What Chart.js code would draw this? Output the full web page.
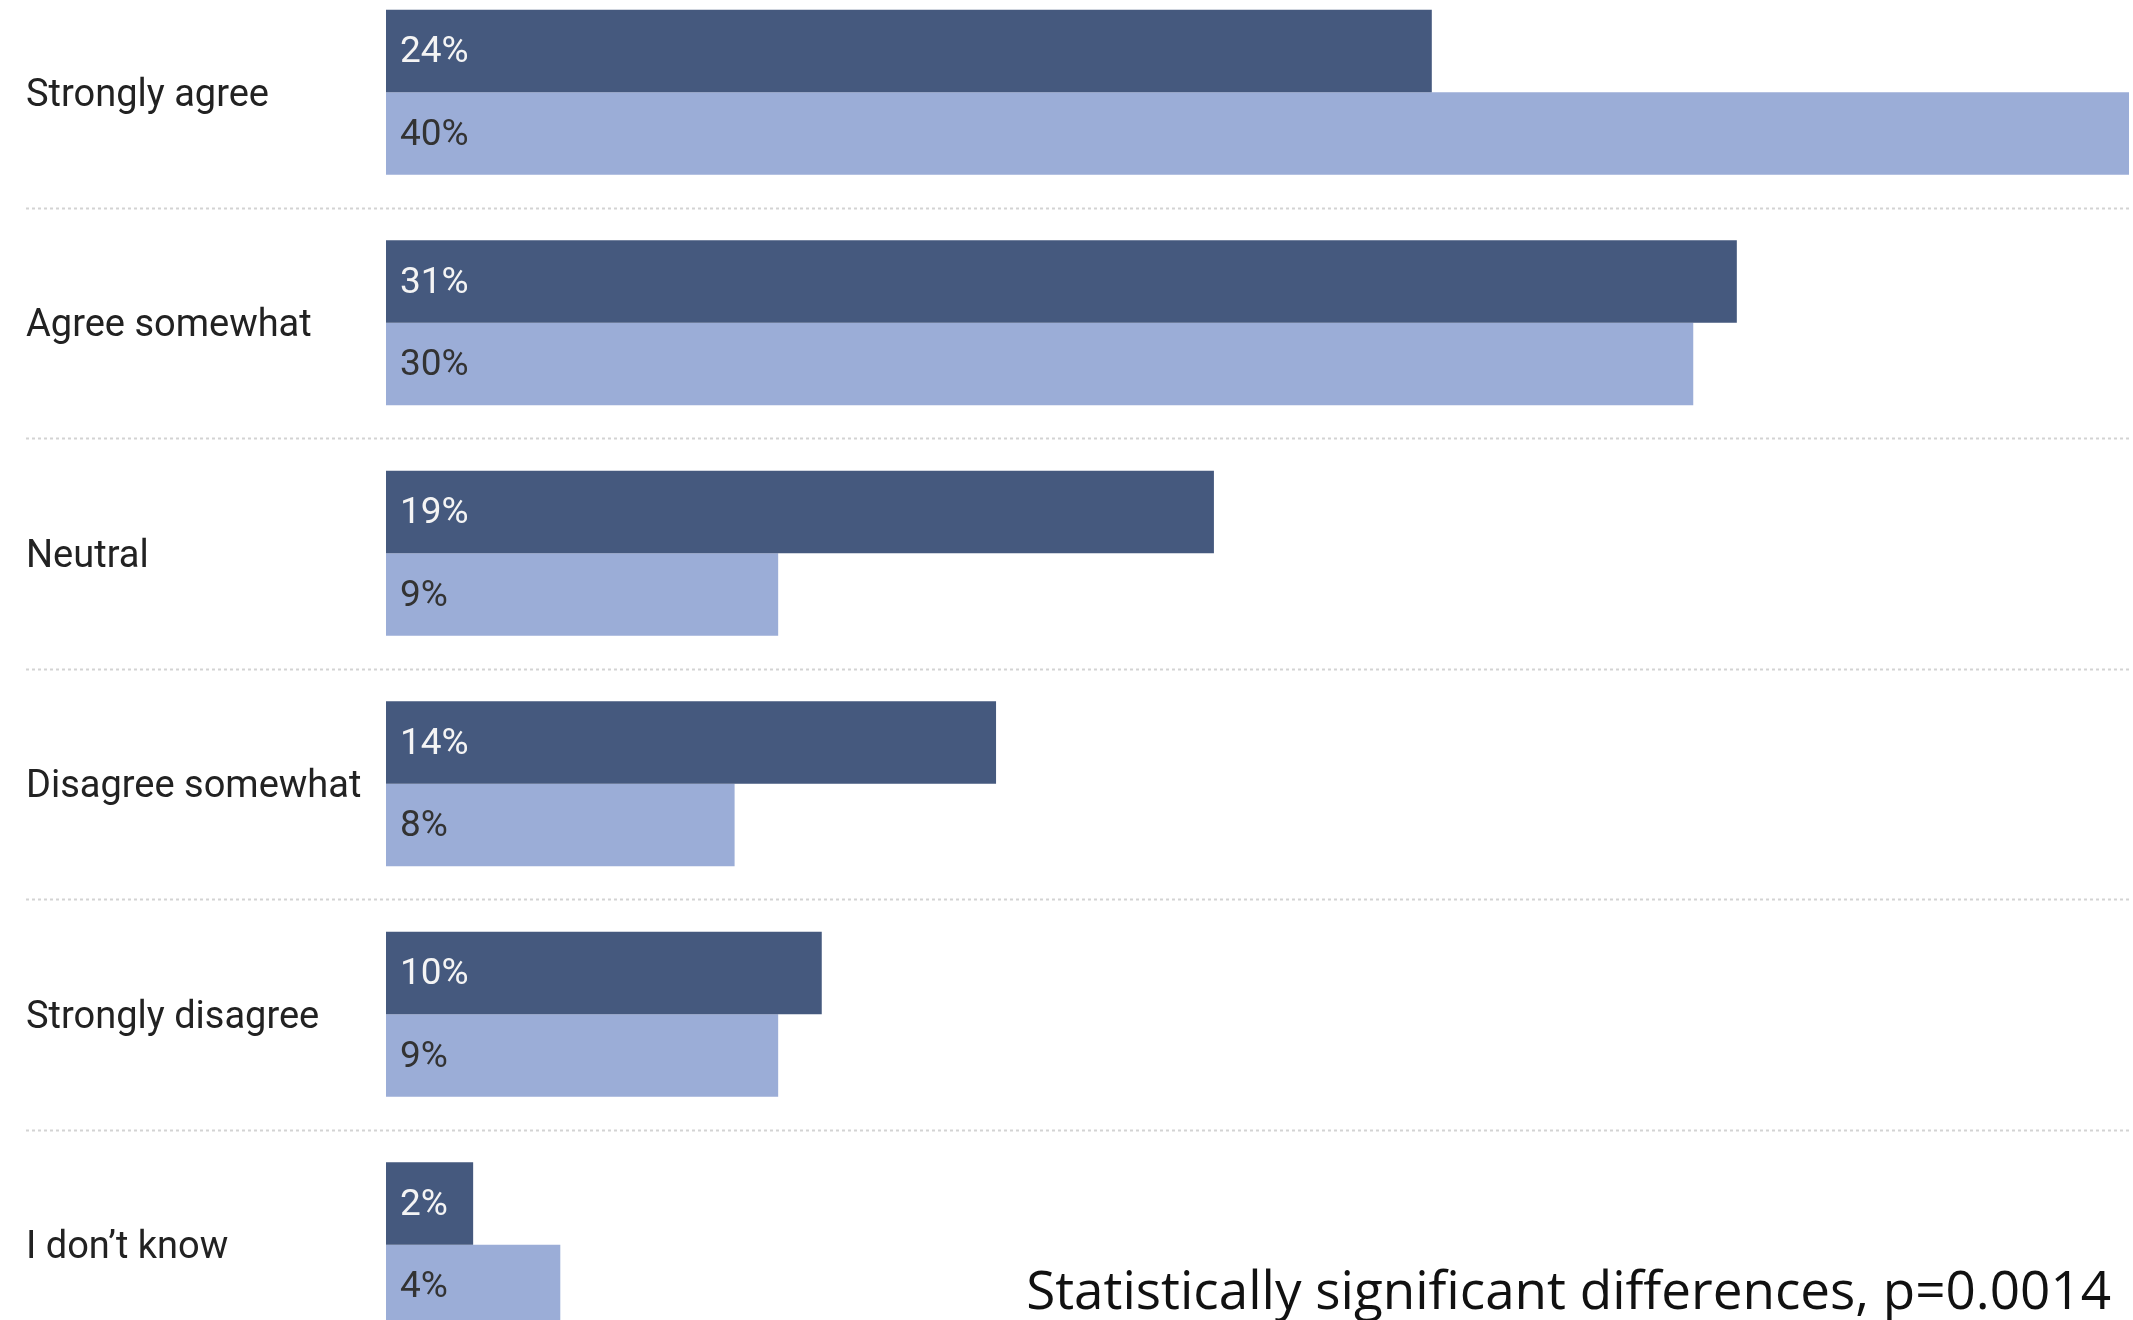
<!DOCTYPE html>
<html>
<head>
<meta charset="utf-8">
<script src="https://cdn.jsdelivr.net/npm/chart.js@4"></script>
<style>
  html, body { margin: 0; padding: 0; background: #fff; overflow: hidden; }
  body { width: 2133px; height: 1320px; position: relative; }
  #wrap { position: absolute; left: 0; top: -23px; width: 2133px; height: 1383px; }
  #note {
    position: absolute; right: 22px; top: 1262px;
    font-family: 'Open Sans', sans-serif; font-size: 53px; line-height: 53px;
    color: #111; white-space: nowrap;
  }
</style>
</head>
<body>
<div id="wrap"><canvas id="chart"></canvas></div>
<div id="note">Statistically significant differences, p=0.0014</div>
<script>
// answers and the two groups (percent)
const answers = ['Strongly agree', 'Agree somewhat', 'Neutral', 'Disagree somewhat', 'Strongly disagree', 'I don\u2019t know'];
const groupA = [24, 31, 19, 14, 10, 2];
const groupB = [40, 30, 9, 8, 9, 4];

const darkBlue = '#45597e';
const lightBlue = '#9badd7';

// dotted separators between rows, running under the labels too
const rowLines = {
  id: 'rowLines',
  beforeDatasetsDraw(chart) {
    const y = chart.scales.y;
    const ctx = chart.ctx;
    const half = (y.getPixelForValue(1) - y.getPixelForValue(0)) / 2;
    ctx.save();
    ctx.strokeStyle = '#d3d3d3';
    ctx.lineWidth = 2;
    ctx.setLineDash([3, 3]);
    for (let i = 0; i < answers.length; i++) {
      const py = Math.round(y.getPixelForValue(i) + half) + 0.5;
      ctx.beginPath();
      ctx.moveTo(26, py);
      ctx.lineTo(chart.chartArea.right, py);
      ctx.stroke();
    }
    ctx.restore();
  }
};

// percent labels inside the bars
const barLabels = {
  id: 'barLabels',
  afterDatasetsDraw(chart) {
    const ctx = chart.ctx;
    ctx.save();
    ctx.font = '37px Roboto';
    ctx.textAlign = 'left';
    ctx.textBaseline = 'middle';
    chart.data.datasets.forEach((ds, di) => {
      ctx.fillStyle = di === 0 ? '#f4f4f4' : '#333';
      chart.getDatasetMeta(di).data.forEach((bar, i) => {
        ctx.fillText(ds.data[i] + '%', bar.base + 14, bar.y + 2);
      });
    });
    ctx.restore();
  }
};

new Chart(document.getElementById('chart'), {
  type: 'bar',
  data: {
    labels: answers,
    datasets: [
      { label: 'Group A', data: groupA, backgroundColor: darkBlue },
      { label: 'Group B', data: groupB, backgroundColor: lightBlue }
    ]
  },
  options: {
    indexAxis: 'y',
    responsive: true,
    maintainAspectRatio: false,
    animation: false,
    events: [],
    categoryPercentage: 0.715,
    barPercentage: 1.0,
    layout: { padding: { left: 26, right: 4, top: 0, bottom: 0 } },
    plugins: { legend: { display: false }, tooltip: { enabled: false } },
    scales: {
      x: { display: false, min: 0, max: 40 },
      y: {
        grid: { display: false },
        border: { display: false },
        afterFit(s) {
          s.width = 360;
          // no extra room above/below for the end labels
          s.paddingTop = 0;
          s.paddingBottom = 0;
        },
        ticks: {
          crossAlign: 'far',
          labelOffset: 4,
          color: '#222',
          font: { family: 'Roboto', size: 38 }
        }
      }
    }
  },
  plugins: [rowLines, barLabels]
});
</script>
</body>
</html>
